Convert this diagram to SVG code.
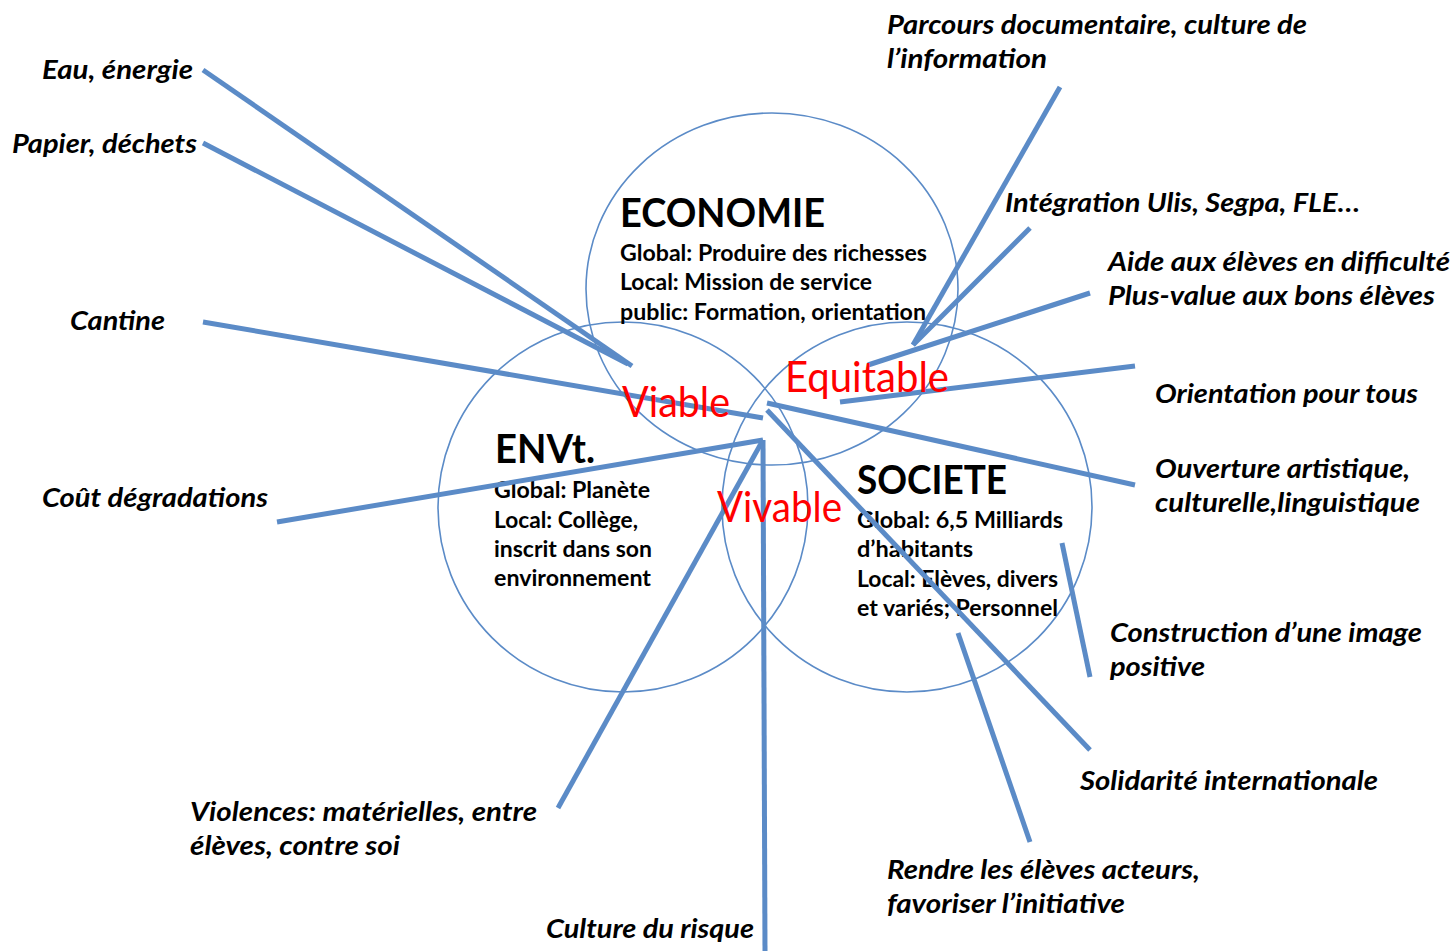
<svg xmlns="http://www.w3.org/2000/svg" width="1454" height="951" viewBox="0 0 1454 951">
<style>
.circ{fill:none;stroke:#5b8bc7;stroke-width:1.6}
.ln{stroke:#5b8bc7;stroke-width:5;stroke-linecap:butt;fill:none}
.lbl{font-family:Lato,"Liberation Sans",sans-serif;font-weight:700;font-style:italic;font-size:27px;fill:#000}
.head{font-family:Lato,"Liberation Sans",sans-serif;font-weight:700;font-size:41px;fill:#000}
.sub{font-family:Lato,"Liberation Sans",sans-serif;font-weight:700;font-size:23px;fill:#000}
.red{font-family:Lato,"Liberation Sans",sans-serif;font-weight:400;font-size:42px;fill:#ff0000}
</style>
<rect width="1454" height="951" fill="#ffffff"/>
<g id="circle-economie">
<ellipse class="circ" cx="772" cy="289" rx="186" ry="176"/>
</g>
<g id="circle-envt">
<circle class="circ" cx="623" cy="507" r="185"/>
</g>
<g id="circle-societe">
<circle class="circ" cx="907" cy="507" r="185"/>
</g>
<g id="economie-text">
<text class="head" x="620" y="227" textLength="205" lengthAdjust="spacingAndGlyphs">ECONOMIE</text>
<text class="sub" x="620" y="261" textLength="307" lengthAdjust="spacingAndGlyphs">Global: Produire des richesses</text>
<text class="sub" x="620" y="290" textLength="252" lengthAdjust="spacingAndGlyphs">Local: Mission de service</text>
<text class="sub" x="620" y="320" textLength="306" lengthAdjust="spacingAndGlyphs">public: Formation, orientation</text>
</g>
<g id="envt-text">
<text class="head" x="495" y="463" textLength="100" lengthAdjust="spacingAndGlyphs">ENVt.</text>
<text class="sub" x="494" y="498" textLength="156" lengthAdjust="spacingAndGlyphs">Global: Planète</text>
<text class="sub" x="494" y="528" textLength="144" lengthAdjust="spacingAndGlyphs">Local: Collège,</text>
<text class="sub" x="494" y="557" textLength="158" lengthAdjust="spacingAndGlyphs">inscrit dans son</text>
<text class="sub" x="494" y="586" textLength="157" lengthAdjust="spacingAndGlyphs">environnement</text>
</g>
<g id="societe-text">
<text class="head" x="857" y="494" textLength="150" lengthAdjust="spacingAndGlyphs">SOCIETE</text>
<text class="sub" x="857" y="528" textLength="206" lengthAdjust="spacingAndGlyphs">Global: 6,5 Milliards</text>
<text class="sub" x="857" y="557" textLength="116" lengthAdjust="spacingAndGlyphs">d’habitants</text>
<text class="sub" x="857" y="587" textLength="201" lengthAdjust="spacingAndGlyphs">Local: Elèves, divers</text>
<text class="sub" x="857" y="616" textLength="201" lengthAdjust="spacingAndGlyphs">et variés; Personnel</text>
</g>
<g id="connectors">
<line class="ln" x1="203" y1="70" x2="632" y2="366"/>
<line class="ln" x1="203" y1="143" x2="628" y2="364"/>
<line class="ln" x1="203" y1="322" x2="763" y2="418"/>
<line class="ln" x1="277" y1="522" x2="763" y2="440"/>
<line class="ln" x1="558" y1="808" x2="763" y2="440"/>
<line class="ln" x1="763" y1="440" x2="765" y2="951"/>
<line class="ln" x1="767" y1="410" x2="1090" y2="750"/>
<line class="ln" x1="767" y1="403" x2="1135" y2="485"/>
<line class="ln" x1="840" y1="402" x2="1135" y2="366"/>
<line class="ln" x1="868" y1="365" x2="1090" y2="293"/>
<line class="ln" x1="913" y1="345" x2="1030" y2="228"/>
<line class="ln" x1="913" y1="345" x2="1060" y2="87"/>
<line class="ln" x1="1062" y1="543" x2="1090" y2="677"/>
<line class="ln" x1="958" y1="633" x2="1030" y2="842"/>
</g>
<g id="viable">
<text class="red" x="622" y="417" textLength="108" lengthAdjust="spacingAndGlyphs">Viable</text>
</g>
<g id="equitable">
<text class="red" x="785" y="392" textLength="164" lengthAdjust="spacingAndGlyphs">Equitable</text>
</g>
<g id="vivable">
<text class="red" x="717" y="522" textLength="125" lengthAdjust="spacingAndGlyphs">Vivable</text>
</g>
<g id="label-parcours">
<text class="lbl" x="887" y="34" textLength="420" lengthAdjust="spacingAndGlyphs">Parcours documentaire, culture de</text>
<text class="lbl" x="887" y="68" textLength="160" lengthAdjust="spacingAndGlyphs">l’information</text>
</g>
<g id="label-eau">
<text class="lbl" x="42" y="79" textLength="151" lengthAdjust="spacingAndGlyphs">Eau, énergie</text>
</g>
<g id="label-papier">
<text class="lbl" x="12" y="153" textLength="185" lengthAdjust="spacingAndGlyphs">Papier, déchets</text>
</g>
<g id="label-integration">
<text class="lbl" x="1005" y="212" textLength="355" lengthAdjust="spacingAndGlyphs">Intégration Ulis, Segpa, FLE…</text>
</g>
<g id="label-aide">
<text class="lbl" x="1108" y="271" textLength="342" lengthAdjust="spacingAndGlyphs">Aide aux élèves en difficulté</text>
<text class="lbl" x="1108" y="305" textLength="327" lengthAdjust="spacingAndGlyphs">Plus-value aux bons élèves</text>
</g>
<g id="label-cantine">
<text class="lbl" x="70" y="330" textLength="95" lengthAdjust="spacingAndGlyphs">Cantine</text>
</g>
<g id="label-orientation">
<text class="lbl" x="1155" y="403" textLength="263" lengthAdjust="spacingAndGlyphs">Orientation pour tous</text>
</g>
<g id="label-ouverture">
<text class="lbl" x="1155" y="478" textLength="255" lengthAdjust="spacingAndGlyphs">Ouverture artistique,</text>
<text class="lbl" x="1155" y="512" textLength="265" lengthAdjust="spacingAndGlyphs">culturelle,linguistique</text>
</g>
<g id="label-cout">
<text class="lbl" x="42" y="507" textLength="226" lengthAdjust="spacingAndGlyphs">Coût dégradations</text>
</g>
<g id="label-construction">
<text class="lbl" x="1110" y="642" textLength="312" lengthAdjust="spacingAndGlyphs">Construction d’une image</text>
<text class="lbl" x="1110" y="676" textLength="95" lengthAdjust="spacingAndGlyphs">positive</text>
</g>
<g id="label-solidarite">
<text class="lbl" x="1080" y="790" textLength="298" lengthAdjust="spacingAndGlyphs">Solidarité internationale</text>
</g>
<g id="label-violences">
<text class="lbl" x="190" y="821" textLength="347" lengthAdjust="spacingAndGlyphs">Violences: matérielles, entre</text>
<text class="lbl" x="190" y="855" textLength="210" lengthAdjust="spacingAndGlyphs">élèves, contre soi</text>
</g>
<g id="label-rendre">
<text class="lbl" x="887" y="879" textLength="313" lengthAdjust="spacingAndGlyphs">Rendre les élèves acteurs,</text>
<text class="lbl" x="887" y="913" textLength="238" lengthAdjust="spacingAndGlyphs">favoriser l’initiative</text>
</g>
<g id="label-culture">
<text class="lbl" x="546" y="938" textLength="208" lengthAdjust="spacingAndGlyphs">Culture du risque</text>
</g>
</svg>
